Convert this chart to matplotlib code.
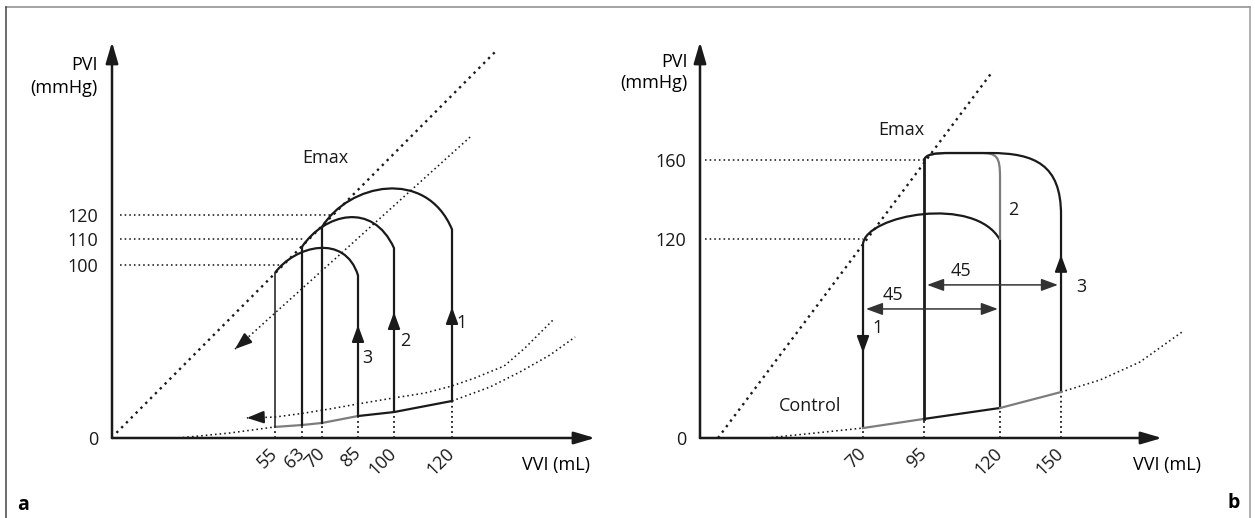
import numpy as np
import matplotlib.pyplot as plt
from matplotlib.path import Path
from matplotlib.patches import PathPatch
from matplotlib.lines import Line2D

plt.rcParams['font.family'] = ['Open Sans', 'DejaVu Sans']
plt.rcParams['font.size'] = 13

INK = '#1a1a1a'
GREY = '#7d7d7d'
HEAVY_DOTS = dict(color=INK, lw=1.7, ls=(0, (1, 1.9)))
FINE_DOTS = dict(color=INK, lw=1.15, ls=(0, (1, 1.9)))
DROP_DOTS = dict(color=INK, lw=1.3, ls=(0, (1, 1.8)))

# ---------------- panel a: three loops, falling preload ----------------
A_VOL_TICKS = [55, 63, 70, 85, 100, 120]
A_PRES_TICKS = [0, 100, 110, 120]
# the axes are drawn by hand, so each labelled value gets its own place
A_VOL_KNOTS = [-50, 0, 55, 63, 70, 85, 100, 120, 250]
A_VOL_POS = [-36, 112, 275, 302, 322, 358, 394, 452, 803]
A_PRES_KNOTS = [-100, 0, 100, 110, 120, 250]
A_PRES_POS = [-173, 0, 173, 199, 223, 535]

# loops 1, 2, 3
A_ESV = [70, 63, 55]
A_EDV = [120, 100, 85]
A_ESV_FOOT = [8.7, 7.5, 6.4]
A_EDV_FOOT = [21.4, 15.0, 12.7]
A_LEFT_LW = [1.6, 1.6, 1.1]
# ejection arcs, cubic control points (mL, mmHg)
A_ARCS = [
    [(70, 115.0), (81, 133.0), (111, 140.0), (120, 114.0)],
    [(63, 107.0), (71, 120.5), (91, 126.0), (100, 106.5)],
    [(55, 95.5), (61, 107.5), (79.5, 112.5), (85, 94.0)],
]
A_ARROW_TIP = [75.7, 72.8, 65.3]
A_NAMES = ['1', '2', '3']
A_NAME_AT = [(123.7, 66.5), (103.8, 56.0), (88.8, 46.2)]

A_FILL_VOL = [55, 63, 70, 85, 100, 120]
A_FILL_PRES = [6.4, 7.5, 8.7, 12.7, 15.0, 21.4]
A_PLATEAU = [(120, 74.2), (110, 64.0), (100, 56.5)]

A_EMAX_VOL = [1.5, 136.7]
A_EMAX_PRES = [3.0, 188.8]
A_SHIFT_VOL = [126.7, 41.5]
A_SHIFT_PRES = [152.5, 51.4]
A_SHIFT_HEAD_BASE = (45.9, 57.8)

A_EDPVR_LO_L_VOL = [22.3, 39.8, 55]
A_EDPVR_LO_L_PRES = [0.0, 2.9, 6.4]
A_EDPVR_LO_R_VOL = [120, 134.1, 145.2, 156.3, 165.6]
A_EDPVR_LO_R_PRES = [21.4, 29.5, 38.2, 48.0, 58.4]
A_EDPVR_UP_VOL = [45.5, 55, 63, 73.3, 85, 99.6, 110.7, 120, 128.5, 139.3, 147.0, 157.4]
A_EDPVR_UP_PRES = [11.6, 12.1, 14.2, 16.8, 19.7, 23.1, 26.0, 30.1, 34.7, 41.6, 52.0, 68.2]
A_EDPVR_HEAD_BASE = (50.6, 12.0)

# ---------------- panel b: control loop and two altered loops ----------------
B_VOL_TICKS = [70, 95, 120, 150]
B_PRES_TICKS = [0, 120, 160]
B_VOL_KNOTS = [-100, 0, 70, 95, 120, 150, 300]
B_VOL_POS = [467, 700, 863, 924, 1000, 1061, 1406]
B_PRES_KNOTS = [-100, 0, 120, 160, 300]
B_PRES_POS = [-165.8, 0, 199, 278, 554.5]

B_FILL_VOL = [70, 95, 120, 150]
B_FILL_PRES = [6.0, 11.5, 18.1, 27.7]
B_FILL_COLORS = [GREY, INK, GREY]
B_PLATEAU = [(160, 95), (120, 70)]

B_EMAX_VOL = [7.7, 117.7]
B_EMAX_PRES = [0.0, 205.1]

B_CONTROL = [(70, 6.0), (70, 117.0), (71.2, 132.2), (111.8, 142.3), (120, 119.4), (120, 18.1)]
B_LOOP2 = [(95, 160.0), (95.7, 163.0), (98.6, 163.5), (103.6, 163.5), (113.4, 163.5),
           (119.0, 163.5), (120, 162.0), (120, 150.9), (120, 119.4)]
B_LOOP3 = [(95, 160.0), (95.7, 163.0), (98.6, 163.5), (103.6, 163.5), (116.7, 163.5),
           (137.2, 163.5), (150, 157.5), (150, 132.2), (150, 27.7)]
B_MID_WALL = [(95, 11.5), (95, 160.0)]

B_SPANS_PRES = [77.8, 92.3]
B_SPANS_FROM = [71.2, 96.0]
B_SPANS_TO = [119.3, 148.5]
B_SPANS_TEXT_AT = [(82.3, 86.2), (107.2, 100.7)]
B_SPAN_TEXT = '45'

B_ARROWS = [((70, 51.3), (70, 61.6)), ((150, 110.4), (150, 100.0))]
B_NAMES = ['1', '2', '3']
B_NAME_AT = [(76.1, 66.3), (126.4, 134.7), (158.7, 91.0)]

B_EDPVR_L_VOL = [28.8, 70]
B_EDPVR_L_PRES = [0.0, 6.0]
B_EDPVR_R_VOL = [150, 167, 184.3, 202.6]
B_EDPVR_R_PRES = [27.7, 35.0, 45.8, 63.9]


def knot_scale(ax, axis, knots, pos):
    fwd = lambda v: np.interp(v, knots, pos)
    inv = lambda p: np.interp(p, pos, knots)
    if axis == 'x':
        ax.set_xscale('function', functions=(fwd, inv))
    else:
        ax.set_yscale('function', functions=(fwd, inv))


def path(ax, verts, codes, **kw):
    ax.add_patch(PathPatch(Path(verts, codes), fill=False, clip_on=False,
                           joinstyle='round', **kw))


def head(ax, tip, base, lw=1.4, ms=17, style='-|>,head_length=0.6,head_width=0.22'):
    ax.annotate('', xy=tip, xytext=base, annotation_clip=False,
                arrowprops=dict(arrowstyle=style, mutation_scale=ms, color=INK,
                                lw=lw, shrinkA=0, shrinkB=0))


def frame(ax, knots_x, pos_x, knots_y, pos_y, xmax, ymax, xt, yt):
    knot_scale(ax, 'x', knots_x, pos_x)
    knot_scale(ax, 'y', knots_y, pos_y)
    ax.set_xlim(0, xmax)
    ax.set_ylim(0, ymax)
    ax.patch.set_visible(False)
    for s in ax.spines.values():
        s.set_visible(False)
    ax.set_xticks(xt, [str(v) for v in xt])
    ax.set_yticks(yt, [str(v) for v in yt])
    ax.tick_params(axis='both', length=0, labelsize=13, colors=INK)
    ax.tick_params(axis='y', pad=10)
    ax.tick_params(axis='x', pad=9)
    for t in ax.get_xticklabels():
        t.set(rotation=45, ha='right', va='center', rotation_mode='anchor')
    for end in [(1, 0), (0, 1)]:
        ax.annotate('', xy=end, xycoords='axes fraction', xytext=(0, 0),
                    textcoords='axes fraction',
                    arrowprops=dict(arrowstyle='-|>,head_length=0.75,head_width=0.22',
                                    mutation_scale=17, color=INK, lw=1.8,
                                    shrinkA=0, shrinkB=0))


fig = plt.figure(figsize=(12.55, 5.18), dpi=100)
W, H = 1255, 518

# ======================= panel a =======================
ax = fig.add_axes([112 / W, 80 / H, 483 / W, 396 / H])
frame(ax, A_VOL_KNOTS, A_VOL_POS, A_PRES_KNOTS, A_PRES_POS, 172.96, 192.1,
      A_VOL_TICKS, A_PRES_TICKS)

ax.plot(A_EMAX_VOL, A_EMAX_PRES, clip_on=False, **HEAVY_DOTS)
ax.plot(A_SHIFT_VOL, A_SHIFT_PRES, clip_on=False, **FINE_DOTS)
head(ax, (A_SHIFT_VOL[1], A_SHIFT_PRES[1]), A_SHIFT_HEAD_BASE)
ax.plot(A_EDPVR_LO_L_VOL, A_EDPVR_LO_L_PRES, clip_on=False, **FINE_DOTS)
ax.plot(A_EDPVR_LO_R_VOL, A_EDPVR_LO_R_PRES, clip_on=False, **FINE_DOTS)
ax.plot(A_EDPVR_UP_VOL, A_EDPVR_UP_PRES, clip_on=False, **FINE_DOTS)
head(ax, (A_EDPVR_UP_VOL[0], A_EDPVR_UP_PRES[0]), A_EDPVR_HEAD_BASE)

for p, v in A_PLATEAU:
    ax.plot([2.7, v], [p, p], **FINE_DOTS)
for v, p in zip(A_FILL_VOL, A_FILL_PRES):
    ax.plot([v, v], [0, p], **DROP_DOTS)

# filling line along the bottom of the loops
ax.plot(A_FILL_VOL[:4], A_FILL_PRES[:4], color=GREY, lw=1.6)
ax.plot(A_FILL_VOL[3:], A_FILL_PRES[3:], color=INK, lw=1.6)

C4 = Path.CURVE4
for i in range(3):
    ax.plot([A_ESV[i]] * 2, [A_ESV_FOOT[i], A_ARCS[i][0][1]], color=INK,
            lw=A_LEFT_LW[i])
    verts = A_ARCS[i] + [(A_EDV[i], A_EDV_FOOT[i])]
    codes = [Path.MOVETO, C4, C4, C4, Path.LINETO]
    path(ax, verts, codes, color=INK, lw=1.6)
    head(ax, (A_EDV[i], A_ARROW_TIP[i]), (A_EDV[i], A_ARROW_TIP[i] - 8))
    ax.text(*A_NAME_AT[i], A_NAMES[i], ha='center', va='center', color=INK)

ax.text(71.25, 143.75, 'Emax', ha='center', va='center', color=INK)
ax.text(-0.029, 0.942, 'PVI', transform=ax.transAxes, ha='right', va='center')
ax.text(-0.029, 0.884, '(mmHg)', transform=ax.transAxes, ha='right', va='center')
ax.text(0.919, -0.068, 'VVI (mL)', transform=ax.transAxes, ha='center', va='center')

# ======================= panel b =======================
bx = fig.add_axes([700 / W, 80 / H, 462 / W, 396 / H])
frame(bx, B_VOL_KNOTS, B_VOL_POS, B_PRES_KNOTS, B_PRES_POS, 193.9, 219.7,
      B_VOL_TICKS, B_PRES_TICKS)

bx.plot(B_EMAX_VOL, B_EMAX_PRES, clip_on=False, **HEAVY_DOTS)
bx.plot(B_EDPVR_L_VOL, B_EDPVR_L_PRES, clip_on=False, **FINE_DOTS)
bx.plot(B_EDPVR_R_VOL, B_EDPVR_R_PRES, clip_on=False, **FINE_DOTS)
for p, v in B_PLATEAU:
    bx.plot([2, v], [p, p], **FINE_DOTS)
for v, p in zip(B_FILL_VOL, B_FILL_PRES):
    bx.plot([v, v], [0, p], **DROP_DOTS)

for i, c in enumerate(B_FILL_COLORS):
    bx.plot(B_FILL_VOL[i:i + 2], B_FILL_PRES[i:i + 2], color=c, lw=1.6)

path(bx, B_CONTROL, [Path.MOVETO, Path.LINETO, C4, C4, C4, Path.LINETO],
     color=INK, lw=1.6)
path(bx, B_LOOP2, [Path.MOVETO, C4, C4, C4, Path.LINETO, C4, C4, C4, Path.LINETO],
     color=GREY, lw=1.6)
path(bx, B_LOOP3, [Path.MOVETO, C4, C4, C4, Path.LINETO, C4, C4, C4, Path.LINETO],
     color=INK, lw=1.6)
bx.plot(*zip(*B_MID_WALL), color=INK, lw=2.0)

for tip, base in B_ARROWS:
    head(bx, tip, base)
for name, at in zip(B_NAMES, B_NAME_AT):
    bx.text(*at, name, ha='center', va='center', color=INK)

for p, v0, v1, at in zip(B_SPANS_PRES, B_SPANS_FROM, B_SPANS_TO, B_SPANS_TEXT_AT):
    bx.annotate('', xy=(v1, p), xytext=(v0, p), annotation_clip=False,
                arrowprops=dict(arrowstyle='<|-|>,head_length=0.6,head_width=0.22',
                                mutation_scale=17, color='#333333', lw=1.1,
                                shrinkA=0, shrinkB=0))
    bx.text(*at, B_SPAN_TEXT, ha='center', va='center', color=INK)

bx.text(47.2, 19.3, 'Control', ha='center', va='center', color=INK)
bx.text(85.6, 175.2, 'Emax', ha='center', va='center', color=INK)
bx.text(-0.026, 0.949, 'PVI', transform=bx.transAxes, ha='right', va='center')
bx.text(-0.026, 0.896, '(mmHg)', transform=bx.transAxes, ha='right', va='center')
bx.text(1.011, -0.068, 'VVI (mL)', transform=bx.transAxes, ha='center', va='center')

# outer frame and panel letters
top = 1 - 7 / H
fig.add_artist(Line2D([6 / W, 1250 / W], [top, top], color='#8a8a8a', lw=1.1,
                      transform=fig.transFigure))
fig.add_artist(Line2D([6 / W, 6 / W], [0, top], color='#444444', lw=1.1,
                      transform=fig.transFigure))
fig.add_artist(Line2D([1250 / W, 1250 / W], [0, top], color='#9a9a9a', lw=1.1,
                      transform=fig.transFigure))
fig.text(23 / W, 1 - 505 / H, 'a', ha='center', va='center', fontsize=14,
         fontweight='bold')
fig.text(1234 / W, 1 - 503 / H, 'b', ha='center', va='center', fontsize=14,
         fontweight='bold')

fig.savefig('out.png', dpi=100)
